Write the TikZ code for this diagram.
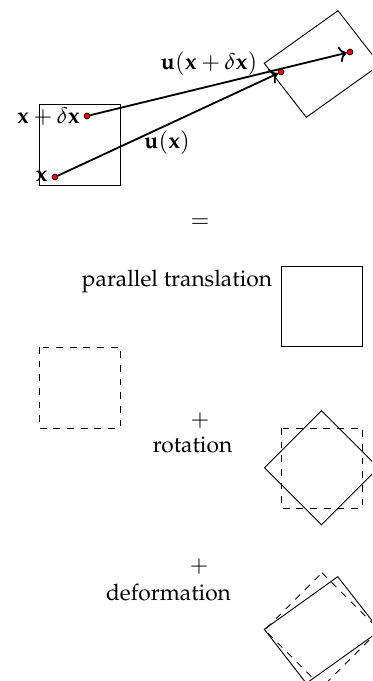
\documentclass[tikz,border=0pt]{standalone}
\usepackage[T1]{fontenc}
\usepackage{mathpazo}
\usetikzlibrary{arrows.meta}

\begin{document}
\begin{tikzpicture}[
  x=0.44pt, y=-0.44pt,
  dot/.style={circle, fill=red, draw=black, line width=0.3pt, inner sep=0pt, minimum size=2.6pt},
  disp/.style={thick, ->},
  cell/.style={line width=0.4pt},
  ghost/.style={cell, dashed},
]

% Page frame
\useasboundingbox (0,0) rectangle (372,681);
\clip (0,0) rectangle (372,681);

% Initial cell and its material points
\draw[cell] (39,104) rectangle (120,185);
\node[dot] (x0) at (55,177) {};
\node[dot] (x1) at (87,116) {};
\node (lx0) at (41.5,176) {$\mathbf{x}$};
\node (lx1) at (48.5,116) {$\mathbf{x}+\delta\mathbf{x}$};

% Displaced cell and its material points
\draw[cell] (264.3,63.3) -- (338,10.7) -- (380,64.7) -- (306.3,117.3) -- cycle;
\node[dot] (y0) at (281,72) {};
\node[dot] (y1) at (350,52) {};

% Displacement vectors
\draw[disp] (x0) -- (y0);
\draw[disp] (x1) -- (y1);
\node (lu0) at (167,143) {$\mathbf{u}(\mathbf{x})$};
\node (lu1) at (209,64) {$\mathbf{u}(\mathbf{x}+\delta\mathbf{x})$};

% Decomposition
\node (eq) at (200,223) {$=$};

% Parallel translation
\node (trans) at (177,281) {parallel translation};
\draw[cell] (281,266) rectangle (362,346);
\draw[ghost] (39,347) rectangle (120,428);

% Rotation
\node (plus1) at (200,421) {$+$};
\node (rot) at (192.5,445) {rotation};
\draw[ghost] (281,428) rectangle (362,508);
\draw[cell] (321.5,410.7) -- (378.5,467.7) -- (321.5,524.7) -- (264.5,467.7) -- cycle;

% Deformation
\node (plus2) at (199,567) {$+$};
\node (def) at (168.5,593) {deformation};
\draw[ghost] (322,572.7) -- (379.3,630) -- (322,687.3) -- (264.7,630) -- cycle;
\draw[cell] (264.3,629.3) -- (337.7,576.7) -- (380,630.7) -- (306.3,683.3) -- cycle;

\end{tikzpicture}
\end{document}
